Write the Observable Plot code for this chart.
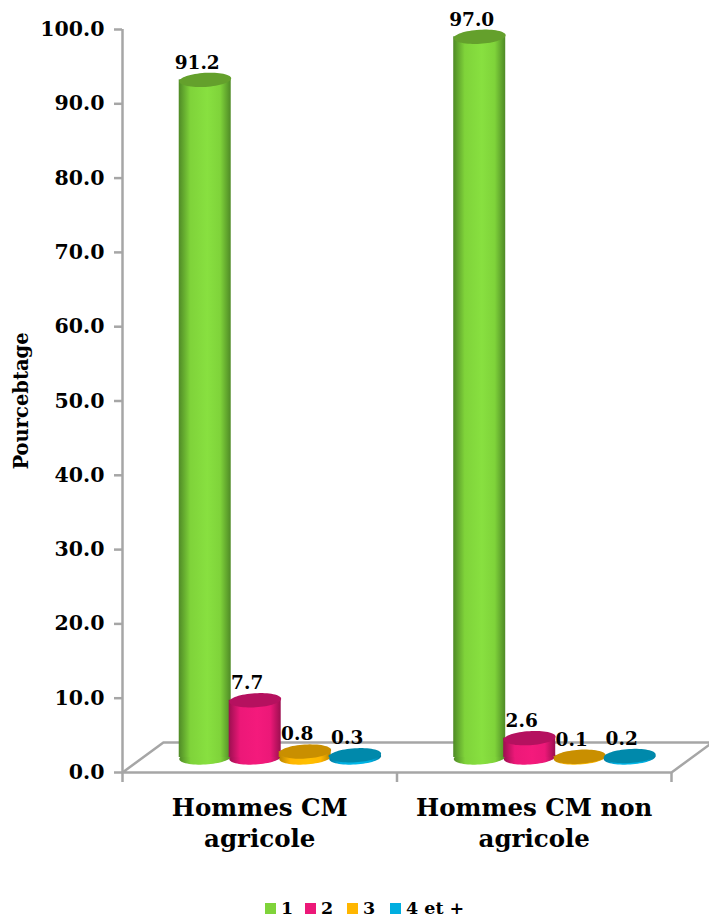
<!DOCTYPE html>
<html><head><meta charset="utf-8">
<script src="https://cdn.jsdelivr.net/npm/d3@7"></script>
<script src="https://cdn.jsdelivr.net/npm/@observablehq/plot@0.6"></script>
<style>
html,body{margin:0;padding:0;background:#fff}
body{width:709px;height:918px;overflow:hidden;font-family:"DejaVu Serif",serif;font-weight:bold;color:#000}
svg{display:block}
#legend{display:block;height:28px;position:relative;font-size:17.5px}
#legend span{position:absolute;top:7px;line-height:22px;white-space:nowrap}
#legend i{display:inline-block;width:11px;height:11px;margin-right:5px;vertical-align:0}
</style></head><body>
<div id="chart"></div>
<div id="legend"></div>
<script>
const categories = ["Hommes CM\nagricole", "Hommes CM non\nagricole"];
const seriesNames = ["1", "2", "3", "4 et +"];
const serie1 = [91.2, 97.0];
const serie2 = [7.7, 2.6];
const serie3 = [0.8, 0.1];
const serie4 = [0.3, 0.2];
const yTicks = [0,10,20,30,40,50,60,70,80,90,100];
const swatches = ["#7fd33a", "#ec1878", "#ffb600", "#00aee0"];
const edges = ["#4f8a26", "#9c0f50", "#b98500", "#00799c"];
const mids = ["#88e040", "#f41a7c", "#ffc000", "#00b8e8"];
const tops = ["#64a02c", "#b5115f", "#c98f00", "#0089ab"];
const depthX = 0.149, depthY = 4.04, barStep = 0.1821, barWidth = 0.1894;

const rows = [serie1, serie2, serie3, serie4].flatMap((vals, s) =>
  vals.map((value, g) => {
    const cx = g + 0.5 + depthX / 2 + (s - 1.5) * barStep;
    return {s, g, value, cx, x1: cx - barWidth / 2, x2: cx + barWidth / 2,
            base: depthY / 2, top: depthY / 2 + value};
  }));

const ellipse = {draw(ctx, size) {
  const r = Math.sqrt(size / Math.PI), ry = r * 0.27, t = -3.5 * Math.PI / 180;
  for (let i = 0; i <= 64; i++) {
    const a = i / 64 * 2 * Math.PI, ex = r * Math.cos(a), ey = ry * Math.sin(a);
    const px = ex * Math.cos(t) - ey * Math.sin(t), py = ex * Math.sin(t) + ey * Math.cos(t);
    i ? ctx.lineTo(px, py) : ctx.moveTo(px, py);
  }
  ctx.closePath();
}};

function defs() {
  const d = d3.create("svg:defs");
  swatches.forEach((_, i) => {
    const g = d.append("linearGradient").attr("id", "cyl" + i);
    [[0, edges[i]], [.22, swatches[i]], [.55, mids[i]], [.8, swatches[i]], [1, edges[i]]]
      .forEach(([o, c]) => g.append("stop").attr("offset", o).attr("stop-color", c));
  });
  return d.node();
}

const gray = "#a6a6a6";
const floorLeft = [{x:0,y:0},{x:depthX,y:depthY},{x:2+depthX,y:depthY},{x:2,y:0},{x:0,y:0}];

const plot = Plot.plot({
  width: 709, height: 890,
  marginLeft: 122, marginRight: 0, marginTop: 29, marginBottom: 118,
  style: {fontFamily: '"DejaVu Serif",serif', fontWeight: "bold", background: "#fff"},
  x: {domain: [0, 587 / 274.5], axis: null},
  y: {domain: [0, 100], axis: null},
  color: {type: "identity"},
  marks: [
    defs,
    Plot.line(floorLeft, {x: "x", y: "y", stroke: gray, strokeWidth: 2.5}),
    Plot.ruleX([0], {y1: 0, y2: 100, stroke: gray, strokeWidth: 2.5}),
    Plot.axisY({ticks: yTicks, tickSize: 8, tickPadding: 10, stroke: gray, strokeWidth: 2.5, tickFormat: d3.format(".1f"),
      fontSize: 20.5, fill: "#000", label: null}),
    Plot.axisX({ticks: [0, 1, 2], tickSize: 10, stroke: gray, strokeWidth: 2.5, tickFormat: () => "", label: null}),
    Plot.axisX({ticks: [0.5, 1.5], tickSize: 0, tickPadding: 21, tickFormat: i => categories[Math.floor(i)],
      fontSize: 24.5, lineHeight: 1.27, fill: "#000", label: null}),
    Plot.text(["Pourcebtage"], {frameAnchor: "left", textAnchor: "middle", dx: -101, rotate: -90, fontSize: 19.5, fill: "#000"}),
    Plot.dot(rows, {x: "cx", y: "base", r: 26, symbol: ellipse, stroke: null, fill: d => `url(#cyl${d.s})`}),
    Plot.rect(rows, {x1: "x1", x2: "x2", y1: "base", y2: "top", fill: d => `url(#cyl${d.s})`}),
    Plot.dot(rows, {x: "cx", y: "top", r: 26, symbol: ellipse, stroke: null, fill: d => tops[d.s]}),
    Plot.text(rows, {x: "cx", y: "top", text: d => d3.format(".1f")(d.value), dx: -8, dy: -17, fontSize: 18.5, fill: "#000"})
  ]
});
document.getElementById("chart").append(plot);

const lefts = [265, 305, 347, 390];
const legend = document.getElementById("legend");
seriesNames.forEach((n, i) => {
  const s = document.createElement("span");
  s.style.left = lefts[i] + "px";
  const b = document.createElement("i");
  b.style.background = swatches[i];
  s.append(b, n);
  legend.append(s);
});
</script>
</body></html>
